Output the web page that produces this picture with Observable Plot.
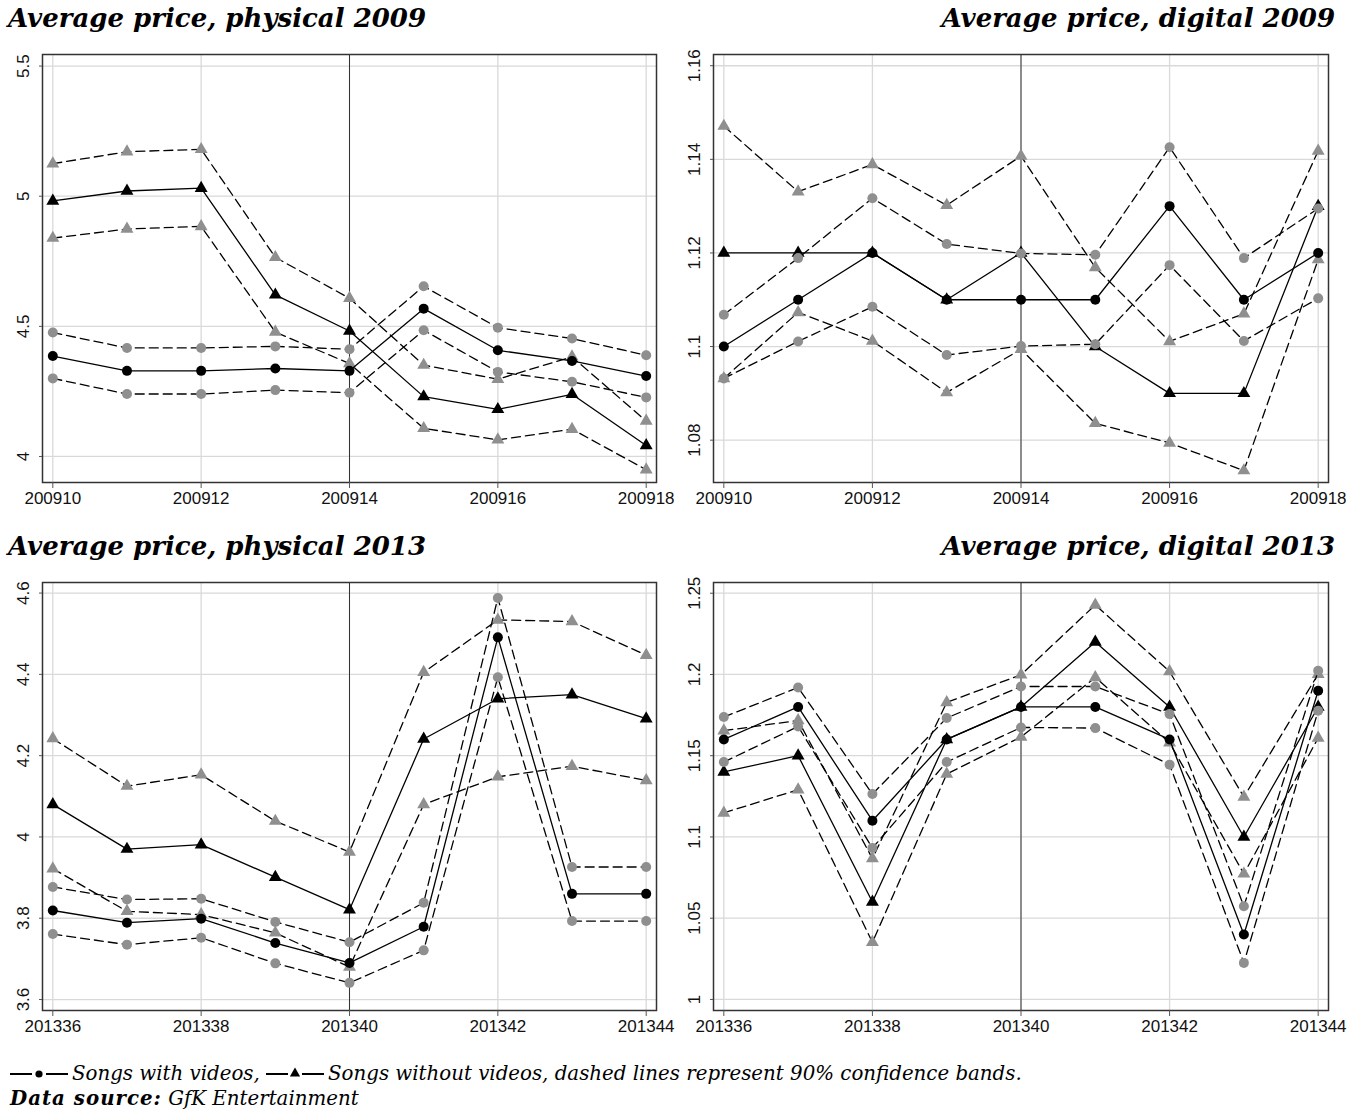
<!DOCTYPE html>
<html>
<head>
<meta charset="utf-8">
<script src="https://cdn.jsdelivr.net/npm/d3@7"></script>
<script src="https://cdn.jsdelivr.net/npm/@observablehq/plot@0.6"></script>
<style>
  html, body { margin: 0; padding: 0; background: #fff; }
  #page { width: 1361px; position: relative; }
  .row { display: flex; height: 528px; }
  .cell { position: relative; }
  .title { height: 40px; font-family: "DejaVu Serif", serif; font-weight: bold; font-style: italic;
           font-size: 26px; line-height: 36px; white-space: nowrap; }
  .title.left { padding-left: 8px; }
  .title.right { text-align: right; padding-right: 26px; }
  .caption { font-family: "DejaVu Serif", serif; font-style: italic; font-size: 19.8px; line-height: 25px;
             padding-left: 10px; margin-top: 5px; white-space: nowrap; }
  .caption svg { vertical-align: 0px; margin-right: 4px; }
  .caption b { font-weight: bold; letter-spacing: 1px; }
</style>
</head>
<body>
<div id="page"></div>
<script>
// ---------------- data ----------------
const weeks2009 = [200910, 200911, 200912, 200913, 200914, 200915, 200916, 200917, 200918];
const weeks2013 = [201336, 201337, 201338, 201339, 201340, 201341, 201342, 201343, 201344];
const ticks2009 = [200910, 200912, 200914, 200916, 200918];
const ticks2013 = [201336, 201338, 201340, 201342, 201344];

// physical 2009
const phys09Video   = [4.386, 4.329, 4.329, 4.338, 4.329, 4.568, 4.408, 4.367, 4.309];
const phys09VideoHi = [4.476, 4.417, 4.417, 4.423, 4.412, 4.654, 4.495, 4.453, 4.389];
const phys09VideoLo = [4.300, 4.240, 4.240, 4.255, 4.245, 4.485, 4.325, 4.287, 4.227];
const phys09NoVid   = [4.982, 5.020, 5.031, 4.621, 4.482, 4.230, 4.181, 4.239, 4.042];
const phys09NoVidHi = [5.125, 5.171, 5.180, 4.765, 4.608, 4.351, 4.297, 4.383, 4.136];
const phys09NoVidLo = [4.839, 4.874, 4.884, 4.478, 4.357, 4.108, 4.064, 4.105, 3.949];

// digital 2009
const dig09Video   = [1.10, 1.11, 1.12, 1.11, 1.11, 1.11, 1.13, 1.11, 1.12];
const dig09VideoHi = [1.1068, 1.1189, 1.1317, 1.1219, 1.1199, 1.1196, 1.1426, 1.1189, 1.1295];
const dig09VideoLo = [1.0932, 1.1011, 1.1085, 1.0982, 1.1001, 1.1005, 1.1174, 1.1012, 1.1103];
const dig09NoVid   = [1.12, 1.12, 1.12, 1.11, 1.12, 1.10, 1.09, 1.09, 1.13];
const dig09NoVidHi = [1.1471, 1.1331, 1.1389, 1.1302, 1.1407, 1.1169, 1.1011, 1.1070, 1.1418];
const dig09NoVidLo = [1.0932, 1.1073, 1.1012, 1.0902, 1.0994, 1.0836, 1.0794, 1.0735, 1.1186];

// physical 2013
const phys13Video   = [3.819, 3.789, 3.799, 3.739, 3.690, 3.779, 4.491, 3.860, 3.860];
const phys13VideoHi = [3.877, 3.846, 3.848, 3.791, 3.741, 3.838, 4.588, 3.926, 3.926];
const phys13VideoLo = [3.761, 3.735, 3.752, 3.689, 3.641, 3.721, 4.393, 3.793, 3.793];
const phys13NoVid   = [4.080, 3.970, 3.981, 3.901, 3.821, 4.241, 4.340, 4.350, 4.291];
const phys13NoVidHi = [4.242, 4.125, 4.153, 4.039, 3.963, 4.405, 4.534, 4.530, 4.447];
const phys13NoVidLo = [3.922, 3.817, 3.809, 3.764, 3.680, 4.080, 4.148, 4.174, 4.139];

// digital 2013
const dig13Video   = [1.16, 1.18, 1.11, 1.16, 1.18, 1.18, 1.16, 1.04, 1.19];
const dig13VideoHi = [1.1738, 1.1920, 1.1264, 1.1732, 1.1926, 1.1926, 1.1756, 1.0574, 1.2023];
const dig13VideoLo = [1.1461, 1.1680, 1.0932, 1.1461, 1.1674, 1.1670, 1.1445, 1.0225, 1.1777];
const dig13NoVid   = [1.14, 1.15, 1.06, 1.16, 1.18, 1.22, 1.18, 1.10, 1.18];
const dig13NoVidHi = [1.1654, 1.1717, 1.0867, 1.1828, 1.1998, 1.2428, 1.2018, 1.1246, 1.2002];
const dig13NoVidLo = [1.1148, 1.1291, 1.0352, 1.1387, 1.1615, 1.1982, 1.1580, 1.0773, 1.1609];

const panelTitles = ["Average price, physical 2009", "Average price, digital 2009",
                     "Average price, physical 2013", "Average price, digital 2013"];
const yTicksPhys09 = [4, 4.5, 5, 5.5];
const yTicksDig09  = [1.08, 1.1, 1.12, 1.14, 1.16];
const yTicksPhys13 = [3.6, 3.8, 4, 4.2, 4.4, 4.6];
const yTicksDig13  = [1, 1.05, 1.1, 1.15, 1.2, 1.25];
const captionText = "Songs with videos,";
const captionText2 = "Songs without videos, dashed lines represent 90% confidence bands.";
const sourceLabel = "Data source:";
const sourceText = "GfK Entertainment";

// ---------------- drawing ----------------
const GRAY = "#8f8f8f";
const DASH = "9,5";

function panel({weeks, xticks, cut, yDomain, yTicks, video, videoHi, videoLo, noVid, noVidHi, noVidLo, left}) {
  const pad = 0.139;
  const rows = (arr) => weeks.map((w, i) => ({w, v: arr[i]}));
  const width = left ? 680 : 681;
  const lineMarks = (arr, dashed) => Plot.line(rows(arr), {x: "w", y: "v", stroke: "#000",
      strokeWidth: 1.3, strokeDasharray: dashed ? DASH : null});
  const dots = (arr, sym, fill, r) => Plot.dot(rows(arr), {x: "w", y: "v", symbol: sym, fill, r, stroke: "none"});
  return Plot.plot({
    width, height: 488,
    marginLeft: left ? 42 : 33, marginRight: left ? 24 : 33, marginTop: 14, marginBottom: 46,
    style: {fontFamily: "'Liberation Sans', Arial, sans-serif", fontSize: "17px", color: "#111", background: "#fff"},
    x: {domain: [weeks[0] - pad, weeks[weeks.length - 1] + pad], label: null},
    y: {domain: yDomain, label: null},
    marks: [
      Plot.gridX(xticks, {stroke: "#d9d9d9", strokeOpacity: 1, strokeWidth: 1.3}),
      Plot.gridY(yTicks, {stroke: "#d9d9d9", strokeOpacity: 1, strokeWidth: 1.3}),
      Plot.ruleX([cut], {stroke: "#333", strokeWidth: 1}),
      // triangles: songs without videos
      lineMarks(noVidHi, true), lineMarks(noVidLo, true), lineMarks(noVid, false),
      dots(noVidHi, "triangle", GRAY, 4.8), dots(noVidLo, "triangle", GRAY, 4.8), dots(noVid, "triangle", "#000", 4.8),
      // circles: songs with videos
      lineMarks(videoHi, true), lineMarks(videoLo, true), lineMarks(video, false),
      dots(videoHi, "circle", GRAY, 5), dots(videoLo, "circle", GRAY, 5), dots(video, "circle", "#000", 5),
      Plot.frame({stroke: "#333", strokeWidth: 1.5}),
      Plot.axisX(xticks, {tickFormat: d => String(d), tickSize: 6, tickPadding: 3, stroke: "#555", fill: "#111", label: null}),
      Plot.axisY(yTicks, {tickFormat: d => String(d), tickSize: 3, tickPadding: 11, tickRotate: -90,
                          textAnchor: "middle", lineAnchor: "bottom", stroke: "#555", fill: "#111", label: null})
    ]
  });
}

const page = document.getElementById("page");
const specs = [
  {weeks: weeks2009, xticks: ticks2009, cut: 200914, yDomain: [3.900, 5.5445], yTicks: yTicksPhys09,
   video: phys09Video, videoHi: phys09VideoHi, videoLo: phys09VideoLo, noVid: phys09NoVid, noVidHi: phys09NoVidHi, noVidLo: phys09NoVidLo, left: true},
  {weeks: weeks2009, xticks: ticks2009, cut: 200914, yDomain: [1.07096, 1.1624], yTicks: yTicksDig09,
   video: dig09Video, videoHi: dig09VideoHi, videoLo: dig09VideoLo, noVid: dig09NoVid, noVidHi: dig09NoVidHi, noVidLo: dig09NoVidLo, left: false},
  {weeks: weeks2013, xticks: ticks2013, cut: 201340, yDomain: [3.573, 4.626], yTicks: yTicksPhys13,
   video: phys13Video, videoHi: phys13VideoHi, videoLo: phys13VideoLo, noVid: phys13NoVid, noVidHi: phys13NoVidHi, noVidLo: phys13NoVidLo, left: true},
  {weeks: weeks2013, xticks: ticks2013, cut: 201340, yDomain: [0.9932, 1.2566], yTicks: yTicksDig13,
   video: dig13Video, videoHi: dig13VideoHi, videoLo: dig13VideoLo, noVid: dig13NoVid, noVidHi: dig13NoVidHi, noVidLo: dig13NoVidLo, left: false}
];

for (let r = 0; r < 2; r++) {
  const row = document.createElement("div");
  row.className = "row";
  for (let c = 0; c < 2; c++) {
    const i = r * 2 + c;
    const cell = document.createElement("div");
    cell.className = "cell";
    cell.style.width = (c === 0 ? 680 : 681) + "px";
    const t = document.createElement("div");
    t.className = "title " + (c === 0 ? "left" : "right");
    t.textContent = panelTitles[i];
    cell.appendChild(t);
    cell.appendChild(panel(specs[i]));
    row.appendChild(cell);
  }
  page.appendChild(row);
}

function keySvg(sym) {
  const s = d3.create("svg").attr("width", 58).attr("height", 14);
  s.append("line").attr("x1", 0).attr("x2", 22).attr("y1", 8).attr("y2", 8).attr("stroke", "#000").attr("stroke-width", 2);
  s.append("line").attr("x1", 36).attr("x2", 58).attr("y1", 8).attr("y2", 8).attr("stroke", "#000").attr("stroke-width", 2);
  if (sym === "circle") s.append("circle").attr("cx", 29).attr("cy", 8).attr("r", 3.6).attr("fill", "#000");
  else s.append("path").attr("transform", "translate(29,7.5)").attr("d", d3.symbol(d3.symbolTriangle, 45)()).attr("fill", "#000");
  return s.node();
}
const cap = document.createElement("div");
cap.className = "caption";
const l1 = document.createElement("div");
l1.appendChild(keySvg("circle"));
l1.appendChild(document.createTextNode(captionText + " "));
l1.appendChild(keySvg("triangle"));
l1.appendChild(document.createTextNode(captionText2));
const l2 = document.createElement("div");
const b = document.createElement("b");
b.textContent = sourceLabel;
l2.appendChild(b);
l2.appendChild(document.createTextNode(" " + sourceText));
cap.appendChild(l1);
cap.appendChild(l2);
page.appendChild(cap);
</script>
</body>
</html>
